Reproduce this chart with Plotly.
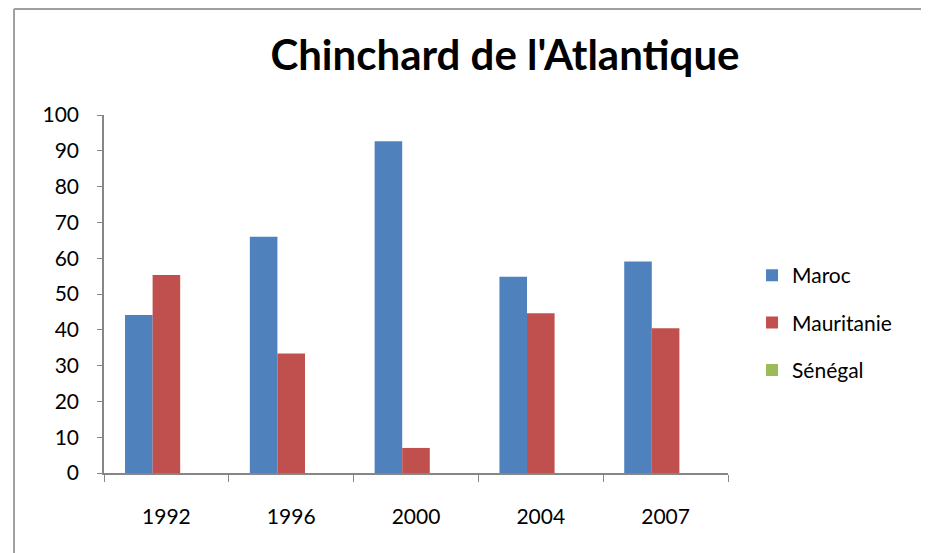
import plotly.graph_objects as go

years = ['1992', '1996', '2000', '2004', '2007']
maroc = [44.1, 66.0, 92.7, 54.8, 59.1]
mauritanie = [55.3, 33.4, 7.0, 44.6, 40.4]
senegal = [0, 0, 0, 0, 0]

font = 'Lato'
axis_color = '#868686'

fig = go.Figure([
    go.Bar(name='Maroc', x=years, y=maroc, marker_color='#4F81BD', legendgroup='a'),
    go.Bar(name='Mauritanie', x=years, y=mauritanie, marker_color='#C0504D', legendgroup='b'),
    go.Bar(name='Sénégal', x=years, y=senegal, marker_color='#9BBB59', legendgroup='c'),
])
fig.update_traces(marker_line_width=0)

# page has an 8px body margin, so the figure is 8px smaller than the window
fig.update_layout(
    width=921, height=545,
    margin=dict(l=96, r=201, t=107, b=80),
    paper_bgcolor='white', plot_bgcolor='white',
    barmode='group', bargap=0.337, bargroupgap=0,
    font=dict(family=font, size=21, color='black'),
    title=dict(text="<b>Chinchard de l'Atlantique</b>", x=0.5396, xref='container',
               xanchor='center', y=0.9138, yanchor='middle',
               font=dict(family=font, size=42, color='black')),
    legend=dict(x=1.0385, xanchor='left', y=0.42, yanchor='middle',
                font=dict(size=21), tracegroupgap=17, itemwidth=30),
    showlegend=True,
)
fig.update_xaxes(showline=True, linecolor=axis_color, linewidth=1.5,
                 ticks='outside', tickson='boundaries', ticklen=7,
                 tickcolor=axis_color, showgrid=False, ticklabelstandoff=24)
fig.update_yaxes(range=[0, 100], dtick=10, showline=True, linecolor=axis_color,
                 linewidth=1.5, ticks='outside', ticklen=5, tickcolor=axis_color,
                 showgrid=False, zeroline=False, ticklabelstandoff=14)

# chart frame (top and left edges)
fig.add_shape(type='line', xref='paper', yref='paper', x0=-0.1442, x1=1.4,
              y0=1.2961, y1=1.2961, line=dict(color='#A0A0A0', width=2))
fig.add_shape(type='line', xref='paper', yref='paper', x0=-0.1442, x1=-0.1442,
              y0=1.2961, y1=-0.3, line=dict(color='#A0A0A0', width=2))

fig.write_html("out.html")
